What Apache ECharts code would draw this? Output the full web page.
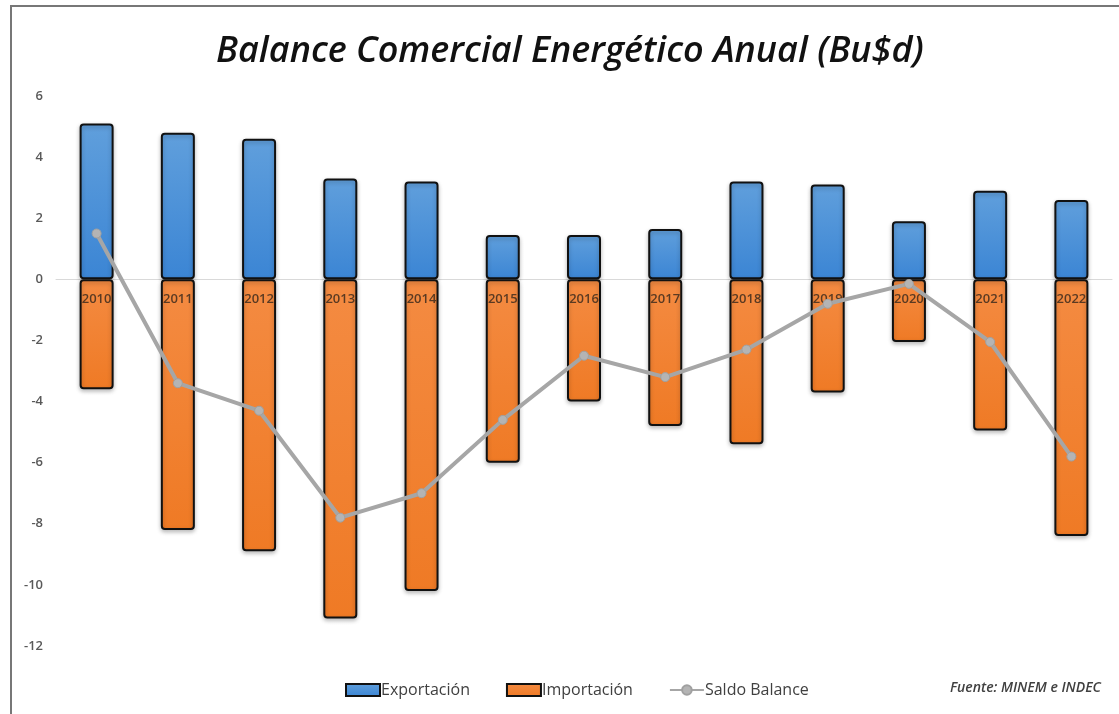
<!DOCTYPE html>
<html>
<head>
<meta charset="utf-8">
<script src="https://cdn.jsdelivr.net/npm/echarts@6/dist/echarts.min.js"></script>
<style>
  html, body { margin: 0; padding: 0; background: #fff; }
  #chart { width: 1119px; height: 714px; }
</style>
</head>
<body>
<div id="chart"></div>
<script>
// Annual energy trade balance, billions of USD
const years = ['2010','2011','2012','2013','2014','2015','2016','2017','2018','2019','2020','2021','2022'];
const exportacion = [5.1, 4.8, 4.6, 3.3, 3.2, 1.45, 1.45, 1.65, 3.2, 3.1, 1.9, 2.9, 2.6];
const importacion = [-3.6, -8.2, -8.9, -11.1, -10.2, -6.0, -4.0, -4.8, -5.4, -3.7, -2.05, -4.95, -8.4];
const saldo = [1.5, -3.4, -4.3, -7.8, -7.0, -4.6, -2.5, -3.2, -2.3, -0.8, -0.15, -2.05, -5.8];
const yTicks = { min: -12, max: 6, interval: 2 };

const chart = echarts.init(document.getElementById('chart'));

const barBorder = {
  borderColor: '#111',
  borderWidth: 2,
  borderRadius: 3,
  shadowColor: 'rgba(0,0,0,0.25)',
  shadowBlur: 4,
  shadowOffsetY: 2
};

chart.setOption({
  backgroundColor: '#fff',
  animation: false,
  title: {
    text: 'Balance Comercial Energético Anual (Bu$d)',
    left: 211,
    top: 29,
    textStyle: {
      fontFamily: 'Open Sans',
      fontStyle: 'italic',
      fontWeight: 600,
      fontSize: 36,
      color: '#111'
    }
  },
  graphic: [
    {
      type: 'rect',
      shape: { x: 11, y: 6, width: 1200, height: 800 },
      style: { fill: 'none', stroke: '#777', lineWidth: 2 },
      z: 10
    },
    {
      type: 'text',
      right: 18,
      top: 681,
      style: {
        text: 'Fuente: MINEM e INDEC',
        fontFamily: 'Open Sans',
        fontStyle: 'italic',
        fontWeight: 600,
        fontSize: 14,
        fill: '#404040'
      }
    }
  ],
  legend: {
    top: 677,
    left: 340,
    itemGap: 36,
    itemWidth: 34,
    itemHeight: 12,
    textStyle: { fontFamily: 'Open Sans', fontSize: 16, color: '#404040', padding: [0, 0, 0, -4] },
    data: [
      { name: 'Exportación', icon: 'rect', itemStyle: { borderColor: '#111', borderWidth: 2 } },
      { name: 'Importación', icon: 'rect', itemStyle: { borderColor: '#111', borderWidth: 2 } },
      { name: 'Saldo Balance' }
    ]
  },
  grid: { left: 56, right: 7, top: 96, bottom: 68 },
  xAxis: {
    type: 'category',
    data: years,
    axisLine: { onZero: true, lineStyle: { color: '#d9d9d9', width: 1 } },
    axisTick: { show: false },
    axisLabel: { show: false },
    splitLine: { show: false }
  },
  yAxis: {
    type: 'value',
    min: yTicks.min,
    max: yTicks.max,
    interval: yTicks.interval,
    axisLine: { show: false },
    axisTick: { show: false },
    splitLine: { show: false },
    axisLabel: { fontFamily: 'Open Sans', fontSize: 13, fontWeight: 600, color: '#595959', margin: 13 }
  },
  series: [
    {
      name: 'Exportación',
      type: 'bar',
      stack: 'balance',
      barWidth: 34,
      data: exportacion,
      itemStyle: Object.assign({
        color: new echarts.graphic.LinearGradient(0, 0, 0, 1, [
          { offset: 0, color: '#609fdc' },
          { offset: 1, color: '#3b85d4' }
        ])
      }, barBorder)
    },
    {
      name: 'Importación',
      type: 'bar',
      stack: 'balance',
      barWidth: 34,
      data: importacion,
      itemStyle: Object.assign({
        color: new echarts.graphic.LinearGradient(0, 0, 0, 1, [
          { offset: 0, color: '#f48b42' },
          { offset: 1, color: '#ef7a25' }
        ])
      }, barBorder),
      label: {
        show: true,
        position: 'insideTop',
        distance: 13,
        formatter: p => p.name,
        fontFamily: 'Open Sans',
        fontSize: 13,
        fontWeight: 600,
        color: '#5a3a22'
      }
    },
    {
      name: 'Saldo Balance',
      type: 'line',
      data: saldo,
      z: 5,
      symbol: 'circle',
      symbolSize: 9,
      lineStyle: { color: '#a6a6a6', width: 4 },
      itemStyle: { color: '#b4b4b4', borderColor: '#a0a0a0', borderWidth: 1 }
    }
  ]
});
</script>
</body>
</html>
